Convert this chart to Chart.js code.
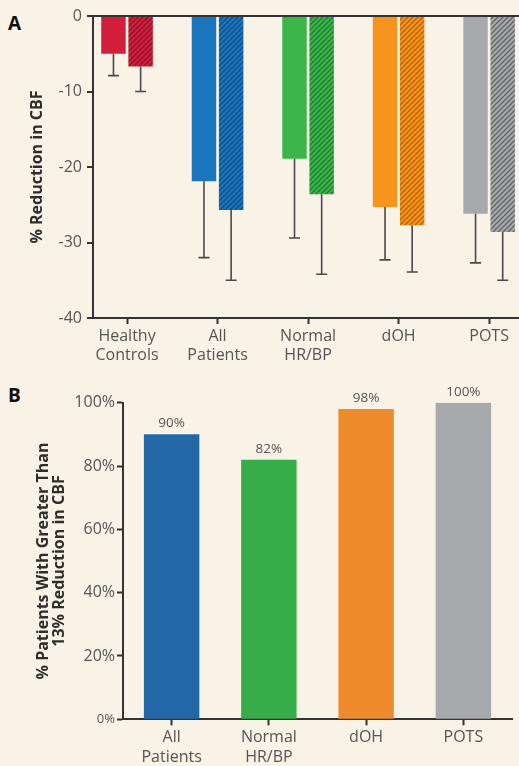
<!DOCTYPE html>
<html>
<head>
<meta charset="utf-8">
<script src="https://cdn.jsdelivr.net/npm/chart.js@4"></script>
<style>
  html, body { margin: 0; padding: 0; background: #f8f2e7; }
  body { width: 519px; height: 766px; position: relative; overflow: hidden; }
  .panel { position: absolute; left: 0; width: 519px; }
  #wrapA { top: 0; height: 375px; }
  #wrapB { top: 370px; height: 396px; }
  .letter { position: absolute; left: 8px; font: bold 19px/19px 'Open Sans', sans-serif; color: #111; }
</style>
</head>
<body>
<div class="letter" style="top:14px">A</div>
<div class="letter" style="top:386px">B</div>
<div class="panel" id="wrapA"><canvas id="chartA" width="519" height="375"></canvas></div>
<div class="panel" id="wrapB"><canvas id="chartB" width="519" height="396"></canvas></div>
<script>
// Panel A: mean % reduction in CBF, solid and hatched bar per group, SD whiskers downward
const groupsA = [['Healthy', 'Controls'], ['All', 'Patients'], ['Normal', 'HR/BP'], 'dOH', 'POTS'];
const solidMeanA = [-5.0, -21.9, -18.9, -25.3, -26.2];
const solidSdA = [2.9, 10.1, 10.5, 7.0, 6.5];
const hatchMeanA = [-6.7, -25.7, -23.6, -27.7, -28.6];
const hatchSdA = [3.3, 9.3, 10.6, 6.2, 6.4];
const yTicksA = [0, -10, -20, -30, -40];

// Panel B: % of patients with > 13% reduction in CBF
const groupsB = [['All', 'Patients'], ['Normal', 'HR/BP'], 'dOH', 'POTS'];
const pctB = [90, 82, 98, 100];
const yTicksB = [0, 20, 40, 60, 80, 100];

const colorsA = ['#d11f3b', '#1b75bc', '#39b54a', '#f7941e', '#a7a9ac'];
const inkA = ['#8f1427', '#0e4f86', '#1f7d31', '#b5650b', '#606266'];
const colorsB = ['#2368a6', '#37ad4a', '#ee8c2d', '#a8a9ad'];

const FONT = "'Open Sans', sans-serif";
const AXIS = '#333';
const TICK_TEXT = '#555';

function hatch(base, ink) {
  const c = document.createElement('canvas');
  c.width = 5; c.height = 5;
  const g = c.getContext('2d');
  g.fillStyle = base;
  g.fillRect(0, 0, 5, 5);
  g.strokeStyle = ink;
  g.lineWidth = 1.3;
  g.beginPath();
  g.moveTo(0, 5); g.lineTo(5, 0);
  g.moveTo(-1, 1); g.lineTo(1, -1);
  g.moveTo(4, 6); g.lineTo(6, 4);
  g.stroke();
  return g.createPattern(c, 'repeat');
}

// whiskers from the bar end down to mean - sd
const errorBars = {
  id: 'errorBars',
  afterDatasetsDraw(chart) {
    const { ctx, scales: { y } } = chart;
    ctx.save();
    ctx.strokeStyle = '#4a4a4a';
    ctx.lineWidth = 1.6;
    chart.data.datasets.forEach((ds, di) => {
      chart.getDatasetMeta(di).data.forEach((bar, i) => {
        const end = y.getPixelForValue(ds.data[i].y - ds.sd[i]);
        ctx.beginPath();
        ctx.moveTo(bar.x, bar.y);
        ctx.lineTo(bar.x, end);
        ctx.moveTo(bar.x - 5.5, end);
        ctx.lineTo(bar.x + 5.5, end);
        ctx.stroke();
      });
    });
    ctx.restore();
  }
};

const valueLabels = {
  id: 'valueLabels',
  afterDatasetsDraw(chart) {
    const { ctx } = chart;
    ctx.save();
    ctx.fillStyle = TICK_TEXT;
    ctx.font = '13.5px ' + FONT;
    ctx.textAlign = 'center';
    ctx.textBaseline = 'middle';
    chart.getDatasetMeta(0).data.forEach((bar, i) => {
      ctx.fillText(pctB[i] + '%', bar.x, bar.y - 11);
    });
    ctx.restore();
  }
};

new Chart(document.getElementById('chartA'), {
  type: 'bar',
  data: {
    datasets: [
      {
        data: solidMeanA.map((v, i) => ({ x: i, y: v })),
        backgroundColor: colorsA,
        sd: solidSdA
      },
      {
        data: hatchMeanA.map((v, i) => ({ x: i, y: v })),
        backgroundColor: colorsA.map((c, i) => hatch(c, inkA[i])),
        sd: hatchSdA
      }
    ]
  },
  options: {
    responsive: false,
    animation: false,
    layout: { padding: { top: 16, left: 0, right: 0, bottom: 0 } },
    datasets: { bar: { categoryPercentage: 0.6, barPercentage: 0.9 } },
    plugins: { legend: { display: false }, tooltip: { enabled: false } },
    scales: {
      x: {
        type: 'linear',
        offset: false,
        min: -0.376,
        max: 4.33,
        bounds: 'data',
        afterBuildTicks: s => { s.ticks = groupsA.map((_, i) => ({ value: i })); },
        afterFit: s => { s.height = 57; },
        grid: { offset: false, drawOnChartArea: false, tickLength: 6, tickColor: AXIS, tickWidth: 2 },
        border: { color: AXIS, width: 2 },
        ticks: {
          callback: v => groupsA[v],
          color: TICK_TEXT,
          font: { family: FONT, size: 16, lineHeight: 1.2 },
          padding: 3,
          maxRotation: 0,
          autoSkip: false
        }
      },
      y: {
        min: -40,
        max: 0,
        z: 1,
        afterBuildTicks: s => { s.ticks = yTicksA.map(v => ({ value: v })); },
        afterFit: s => { s.width = 93; },
        grid: {
          color: c => (c.tick && c.tick.value === 0 ? AXIS : 'rgba(0,0,0,0)'),
          lineWidth: 2,
          tickLength: 6,
          tickColor: AXIS,
          tickWidth: 2
        },
        border: { color: AXIS, width: 2 },
        ticks: {
          callback: v => String(v),
          color: TICK_TEXT,
          font: { family: FONT, size: 16 },
          padding: 5
        },
        title: {
          display: true,
          text: '% Reduction in CBF',
          color: '#2e2e2e',
          font: { family: FONT, size: 16, weight: 'bold', lineHeight: 1.2 },
          padding: { top: 28, bottom: 0 }
        }
      }
    }
  },
  plugins: [errorBars]
});

new Chart(document.getElementById('chartB'), {
  type: 'bar',
  data: {
    labels: groupsB,
    datasets: [{
      data: pctB,
      backgroundColor: colorsB,
      barPercentage: 0.57,
      categoryPercentage: 1
    }]
  },
  options: {
    responsive: false,
    animation: false,
    layout: { padding: { top: 32.7, left: 0, right: 7, bottom: 0 } },
    plugins: { legend: { display: false }, tooltip: { enabled: false } },
    scales: {
      x: {
        afterFit: s => { s.height = 46.7; },
        grid: { offset: false, drawOnChartArea: false, tickLength: 6, tickColor: AXIS, tickWidth: 2 },
        border: { color: AXIS, width: 2 },
        ticks: {
          color: TICK_TEXT,
          font: { family: FONT, size: 16, lineHeight: 1.2 },
          padding: 3,
          maxRotation: 0,
          autoSkip: false
        }
      },
      y: {
        min: 0,
        max: 100,
        afterBuildTicks: s => { s.ticks = yTicksB.map(v => ({ value: v })); },
        afterFit: s => { s.width = 123; },
        grid: { drawOnChartArea: false, tickLength: 6, tickColor: AXIS, tickWidth: 2 },
        border: { color: AXIS, width: 2 },
        ticks: {
          callback: v => v + '%',
          color: TICK_TEXT,
          font: c => ({ family: FONT, size: c.tick && c.tick.value === 0 ? 13 : 16 }),
          padding: 2
        },
        title: {
          display: true,
          text: ['% Patients With Greater Than', '13% Reduction in CBF'],
          color: '#2e2e2e',
          font: { family: FONT, size: 16, weight: 'bold', lineHeight: 1.05 },
          padding: { top: 34.6, bottom: 0 }
        }
      }
    }
  },
  plugins: [valueLabels]
});
</script>
</body>
</html>
